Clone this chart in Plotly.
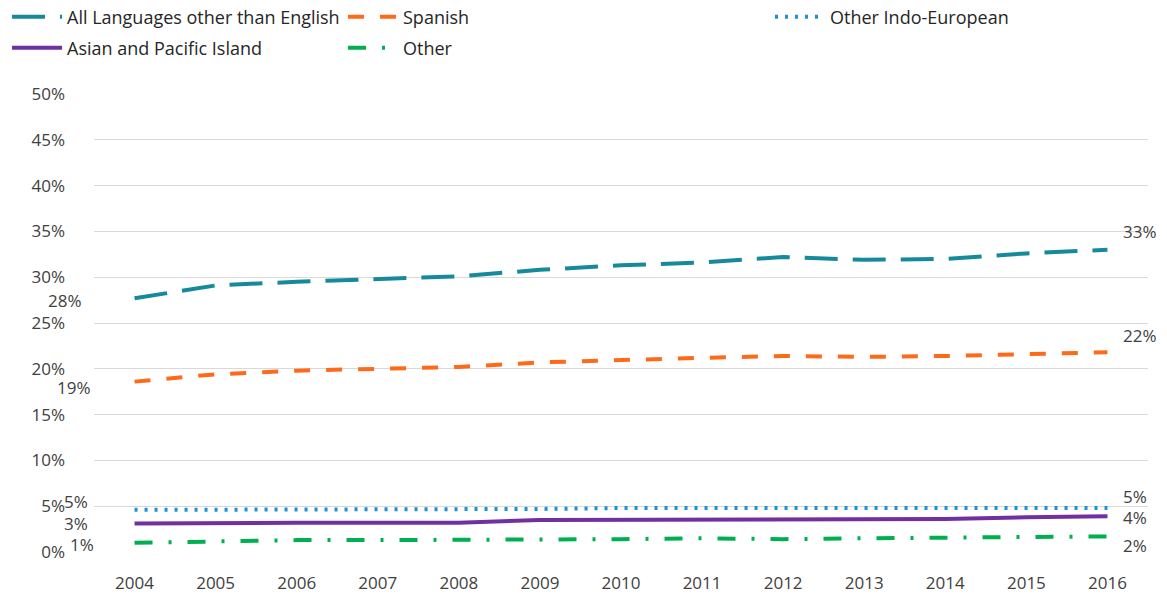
import plotly.graph_objects as go

years = ["2004", "2005", "2006", "2007", "2008", "2009", "2010",
         "2011", "2012", "2013", "2014", "2015", "2016"]
all_lang = [27.7, 29.1, 29.5, 29.8, 30.1, 30.8, 31.3, 31.6, 32.2, 31.9, 32.0, 32.6, 33.0]
spanish = [18.6, 19.4, 19.8, 20.0, 20.2, 20.7, 21.0, 21.2, 21.4, 21.3, 21.4, 21.6, 21.8]
other_ie = [4.6, 4.6, 4.6, 4.6, 4.6, 4.7, 4.8, 4.8, 4.8, 4.8, 4.7, 4.8, 4.8]
asian = [3.1, 3.2, 3.2, 3.2, 3.2, 3.5, 3.5, 3.6, 3.6, 3.6, 3.6, 3.8, 3.9]
other = [1.0, 1.2, 1.3, 1.3, 1.3, 1.3, 1.4, 1.5, 1.4, 1.5, 1.6, 1.6, 1.7]
y_ticks = [0, 5, 10, 15, 20, 25, 30, 35, 40, 45, 50]

FONT = "Segoe UI, Open Sans, Noto Sans, sans-serif"
TXT = "#404040"

series = [
    # name, values, color, dash, legend, left shift (x,y), right shift (x,y)
    ("All Languages other than English", all_lang, "#168A9C", "33px,15px", "legend", (-51, -2), (14, 18)),
    ("Spanish", spanish, "#FF6A1A", "16px,16px", "legend2", (-42, -6), (14, 17)),
    ("Other Indo-European", other_ie, "#1F8FD6", "3px,7px", "legend3", (-45, 8), (14, 12)),
    ("Asian and Pacific Island", asian, "#7030A0", "solid", "legend4", (-45, 0), (14, -1)),
    ("Other", other, "#00B050", "18px,16px,3px,16px", "legend5", (-39, -2), (14, -9)),
]

fig = go.Figure()
annotations = []
last = len(years) - 1
for name, vals, color, dash, leg, ls, rs in series:
    fig.add_trace(go.Scatter(
        x=years, y=vals, mode="lines", name=name,
        line=dict(color=color, width=4, dash=dash),
        legend=leg, hoverinfo="skip",
    ))
    annotations.append(dict(
        x=0, y=vals[0], xref="x", yref="y",
        text=f"{round(vals[0]):.0f}%", showarrow=False,
        xanchor="right", yanchor="middle", xshift=ls[0], yshift=ls[1],
        font=dict(family=FONT, size=17, color=TXT)))
    annotations.append(dict(
        x=last, y=vals[-1], xref="x", yref="y",
        text=f"{round(vals[-1]):.0f}%", showarrow=False,
        xanchor="left", yanchor="middle", xshift=rs[0], yshift=rs[1],
        font=dict(family=FONT, size=17, color=TXT)))

leg_common = dict(xref="container", yref="container", orientation="v",
                  bgcolor="rgba(0,0,0,0)", font=dict(family=FONT, size=18, color="#262626"),
                  xanchor="left", yanchor="middle", itemwidth=50)
W, H = 1167.0, 598.0
fig.update_layout(
    width=1167, height=598,
    paper_bgcolor="white", plot_bgcolor="white",
    margin=dict(l=94, r=19, t=94, b=46, autoexpand=False),
    font=dict(family=FONT, size=17, color=TXT),
    showlegend=True,
    legend=dict(x=7 / W, y=1 - 17 / H, **leg_common),
    legend2=dict(x=343 / W, y=1 - 17 / H, **leg_common),
    legend3=dict(x=770 / W, y=1 - 17 / H, **leg_common),
    legend4=dict(x=7 / W, y=1 - 48 / H, **leg_common),
    legend5=dict(x=343 / W, y=1 - 48 / H, **leg_common),
    annotations=annotations,
    xaxis=dict(type="category", range=[-0.5, 12.5], showgrid=False, showline=False,
               ticks="", tickfont=dict(family=FONT, size=17, color=TXT),
               ticklabelstandoff=19, zeroline=False, tickangle=0),
    yaxis=dict(range=[0, 50], tickvals=y_ticks, ticktext=[f"{v}%" for v in y_ticks],
               showgrid=True, gridcolor="#D9D9D9", gridwidth=1, zeroline=False,
               showline=False, ticks="", tickfont=dict(family=FONT, size=17, color=TXT),
               ticklabelstandoff=28),
)

fig.write_html("out.html", config={"displayModeBar": False},
               post_script="document.body.style.margin='0';")
